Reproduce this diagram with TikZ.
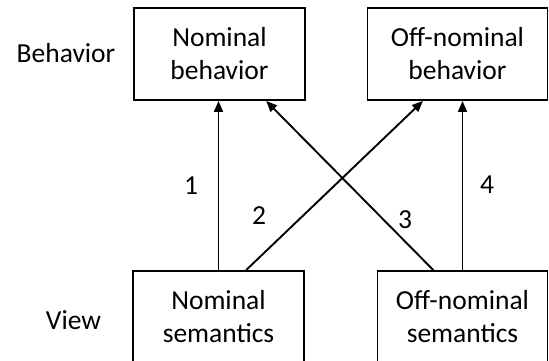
\documentclass[tikz,border=0pt]{standalone}
\usepackage{fontspec}
\setmainfont{Carlito}
\usetikzlibrary{arrows.meta, calc}

\begin{document}
\begin{tikzpicture}[x=1pt, y=1pt,
  level/.style={draw, line width=1.9pt, align=center, minimum height=92pt, inner sep=0pt, font=\fontsize{27.5}{33}\selectfont},
  lbl/.style={inner sep=0pt, font=\fontsize{27.5}{33}\selectfont},
  link/.style={-{Triangle[length=11pt, width=9pt]}, line width=1.9pt}
]
  \clip (0,0) rectangle (549,360);

  % Behavior row
  \node[lbl] (behrow) at (66,306.5) {Behavior};
  \node[level, minimum width=171pt] (nbeh) at (219.5,306) {Nominal\\behavior};
  \node[level, minimum width=180pt] (obeh) at (457.5,306) {Off-nominal\\behavior};

  % View row
  \node[lbl] (viewrow) at (73.5,39.5) {View};
  \node[level, minimum width=171pt] (nsem) at (218.5,43) {Nominal\\semantics};
  \node[level, minimum width=170pt] (osem) at (462.5,43) {Off-nominal\\semantics};

  \draw[link] (nsem.north) -- (nsem.north |- nbeh.south);
  \draw[link] ($(nsem.north west)!0.66!(nsem.north east)$) -- ($(obeh.south west)!0.31!(obeh.south east)$);
  \draw[link] ($(osem.north west)!0.33!(osem.north east)$) -- ($(nbeh.south west)!0.77!(nbeh.south east)$);
  \draw[link] (osem.north) -- (osem.north |- obeh.south);

  \node[lbl] (one) at (191,174) {1};
  \node[lbl] (two) at (259,144) {2};
  \node[lbl] (three) at (405,140) {3};
  \node[lbl] (four) at (487,175) {4};
\end{tikzpicture}
\end{document}
